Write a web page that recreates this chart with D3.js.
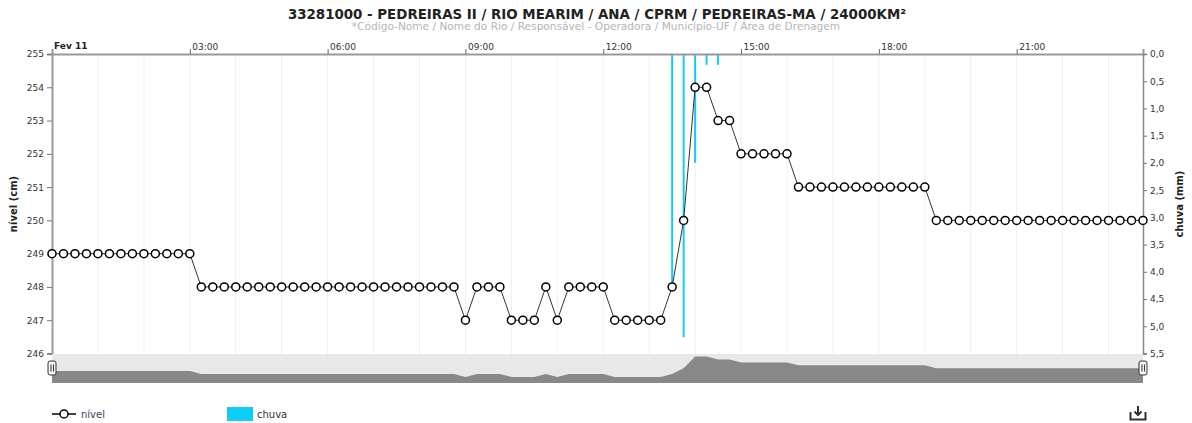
<!DOCTYPE html>
<html>
<head>
<meta charset="utf-8">
<script src="https://cdn.jsdelivr.net/npm/d3@7"></script>
<style>
  body { margin: 0; background: #fff; }
  svg { display: block; font-family: "DejaVu Sans", Verdana, sans-serif; }
</style>
</head>
<body>
<svg id="chart" width="1192" height="423"></svg>
<script>
// dados (leituras a cada 15 min, 11/02)
const inicio = "2024-02-11T00:00";
const passoMin = 15;
const nivel = [
  249, 249, 249, 249, 249, 249, 249, 249, 249, 249, 249, 249, 249,
  248, 248, 248, 248, 248, 248, 248, 248, 248, 248, 248, 248, 248, 248, 248, 248, 248, 248, 248, 248, 248, 248, 248,
  247, 248, 248, 248, 247, 247, 247, 248, 247, 248, 248, 248, 248,
  247, 247, 247, 247, 247, 248, 250, 254, 254, 253, 253,
  252, 252, 252, 252, 252,
  251, 251, 251, 251, 251, 251, 251, 251, 251, 251, 251, 251,
  250, 250, 250, 250, 250, 250, 250, 250, 250, 250, 250, 250, 250, 250, 250, 250, 250, 250, 250
];
const chuvaHoras = ["13:30", "13:45", "14:00", "14:15", "14:30"];
const chuvaMm = [4.2, 5.2, 2.0, 0.2, 0.2];
const nivelTicks = [246, 247, 248, 249, 250, 251, 252, 253, 254, 255];
const chuvaTicks = [0, 0.5, 1, 1.5, 2, 2.5, 3, 3.5, 4, 4.5, 5, 5.5];
const horaTicks = ["03:00", "06:00", "09:00", "12:00", "15:00", "18:00", "21:00"];

const titulo = "33281000 - PEDREIRAS II / RIO MEARIM / ANA / CPRM / PEDREIRAS-MA / 24000KM²";
const subtitulo = "*Código-Nome / Nome do Rio / Responsável - Operadora / Município-UF / Área de Drenagem";

const margin = { top: 54, right: 49, bottom: 70, left: 52 };
const width = 1192, height = 423;
const svg = d3.select("#chart");

const t0 = new Date(inicio);
const dia = "2024-02-11T";
const serie = nivel.map((v, i) => ({ t: new Date(t0.getTime() + i * passoMin * 60000), v }));
const chuva = chuvaHoras.map((h, i) => ({ t: new Date(dia + h), v: chuvaMm[i] }));

const x = d3.scaleTime()
  .domain(d3.extent(serie, d => d.t))
  .range([margin.left, width - margin.right]);
const y = d3.scaleLinear().domain([246, 255]).range([353.5, margin.top]);
const y2 = d3.scaleLinear().domain([0, 5.5]).range([margin.top, 353.5]);

// título
svg.append("text")
  .attr("x", 597).attr("y", 19)
  .attr("text-anchor", "middle")
  .attr("font-weight", "bold").attr("font-size", 13.4)
  .attr("fill", "#222")
  .text(titulo);
svg.append("text")
  .attr("x", 596).attr("y", 30)
  .attr("text-anchor", "middle")
  .attr("font-size", 10.6)
  .attr("fill", "#b5b5b5")
  .text(subtitulo);

// grade vertical por hora
const horas = d3.timeHour.range(d3.timeHour.offset(t0, 1), d3.timeHour.offset(t0, 24));
svg.append("g")
  .selectAll("line")
  .data(horas)
  .join("line")
  .attr("x1", d => x(d)).attr("x2", d => x(d))
  .attr("y1", margin.top).attr("y2", 354)
  .attr("stroke", "#efefef").attr("stroke-width", 1);

// chuva (barras finas)
svg.append("g")
  .selectAll("rect")
  .data(chuva)
  .join("rect")
  .attr("x", d => x(d.t) - 1)
  .attr("y", y2(0))
  .attr("width", 2)
  .attr("height", d => y2(d.v) - y2(0))
  .attr("fill", "#13cdf0");

// eixo superior (tempo)
const xAxis = g => g
  .attr("transform", `translate(0,${margin.top})`)
  .call(d3.axisTop(x)
    .tickValues(horaTicks.map(h => new Date(dia + h)))
    .tickSize(5)
    .tickFormat(d3.timeFormat("%H:%M")))
  .call(g => g.select(".domain").attr("stroke", "#999").attr("stroke-width", 2))
  .call(g => g.selectAll(".tick line").attr("stroke", "#666"))
  .call(g => g.selectAll(".tick text")
    .attr("text-anchor", "start").attr("x", 2).attr("y", -4)
    .attr("font-size", 9).attr("fill", "#333")
    .attr("font-family", "DejaVu Sans"));
svg.append("g").call(xAxis);
svg.append("text")
  .attr("x", margin.left + 2).attr("y", 49)
  .attr("font-size", 9).attr("font-weight", "bold").attr("fill", "#222")
  .text("Fev 11");

// eixo esquerdo (nível)
svg.append("g")
  .attr("transform", `translate(${margin.left},0)`)
  .call(d3.axisLeft(y).tickValues(nivelTicks).tickSize(5).tickPadding(3))
  .call(g => g.select(".domain").attr("stroke", "#999").attr("stroke-width", 2))
  .call(g => g.selectAll(".tick line").attr("stroke", "#777"))
  .call(g => g.selectAll(".tick text").attr("font-size", 9).attr("fill", "#333")
    .attr("font-family", "DejaVu Sans"));
svg.append("text")
  .attr("transform", "translate(17,204) rotate(-90)")
  .attr("text-anchor", "middle")
  .attr("font-size", 10).attr("font-weight", "bold").attr("fill", "#222")
  .text("nível (cm)");

// eixo direito (chuva)
svg.append("g")
  .attr("transform", `translate(${width - margin.right},0)`)
  .call(d3.axisRight(y2).tickValues(chuvaTicks).tickSize(4).tickPadding(3)
    .tickFormat(d => d3.format(".1f")(d).replace(".", ",")))
  .call(g => g.select(".domain").attr("stroke", "#888").attr("stroke-width", 1.5))
  .call(g => g.selectAll(".tick line").attr("stroke", "#777"))
  .call(g => g.selectAll(".tick text").attr("font-size", 9).attr("fill", "#333")
    .attr("font-family", "DejaVu Sans"));
svg.append("text")
  .attr("transform", "translate(1183,204) rotate(-90)")
  .attr("text-anchor", "middle")
  .attr("font-size", 10).attr("font-weight", "bold").attr("fill", "#222")
  .text("chuva (mm)");

// série de nível
svg.append("path")
  .datum(serie)
  .attr("fill", "none")
  .attr("stroke", "#333")
  .attr("stroke-width", 1)
  .attr("d", d3.line().x(d => x(d.t)).y(d => y(d.v)));
svg.append("g")
  .selectAll("circle")
  .data(serie)
  .join("circle")
  .attr("cx", d => x(d.t))
  .attr("cy", d => y(d.v))
  .attr("r", 4)
  .attr("fill", "#fff")
  .attr("stroke", "#000")
  .attr("stroke-width", 1.5);

// navegador
const navY = d3.scaleLinear().domain([244.9, 254.9]).range([383, 354]);
svg.append("rect")
  .attr("x", margin.left).attr("y", 354)
  .attr("width", width - margin.right - margin.left).attr("height", 29)
  .attr("fill", "#e8e8e8");
svg.append("path")
  .datum(serie)
  .attr("fill", "#888")
  .attr("d", d3.area().x(d => x(d.t)).y0(383).y1(d => navY(d.v)));
for (const hx of [margin.left, width - margin.right]) {
  const h = svg.append("g").attr("transform", `translate(${hx},368)`);
  h.append("rect")
    .attr("x", -4).attr("y", -7).attr("width", 8).attr("height", 14)
    .attr("rx", 2)
    .attr("fill", "#f2f2f2").attr("stroke", "#333").attr("stroke-width", 1);
  h.append("path")
    .attr("d", "M-1,-3.5V3.5M1.5,-3.5V3.5")
    .attr("stroke", "#333").attr("stroke-width", 1);
}

// legenda
const leg = svg.append("g").attr("font-size", 10).attr("fill", "#333");
leg.append("line")
  .attr("x1", 52).attr("x2", 76).attr("y1", 414).attr("y2", 414)
  .attr("stroke", "#000").attr("stroke-width", 1.5);
leg.append("circle")
  .attr("cx", 64).attr("cy", 414).attr("r", 4)
  .attr("fill", "#fff").attr("stroke", "#000").attr("stroke-width", 1.5);
leg.append("text").attr("x", 81).attr("y", 418).attr("fill", "#4a3a5a").text("nível");
leg.append("rect")
  .attr("x", 227).attr("y", 407).attr("width", 26).attr("height", 14)
  .attr("fill", "#0dcdf5");
leg.append("text").attr("x", 257).attr("y", 418).attr("fill", "#333").text("chuva");

// ícone de download
svg.append("path")
  .attr("d", "M1130.5,412V419.5H1145.5V412M1138,406V415M1134.5,411.5L1138,415L1141.5,411.5")
  .attr("fill", "none")
  .attr("stroke", "#333")
  .attr("stroke-width", 2);
</script>
</body>
</html>
